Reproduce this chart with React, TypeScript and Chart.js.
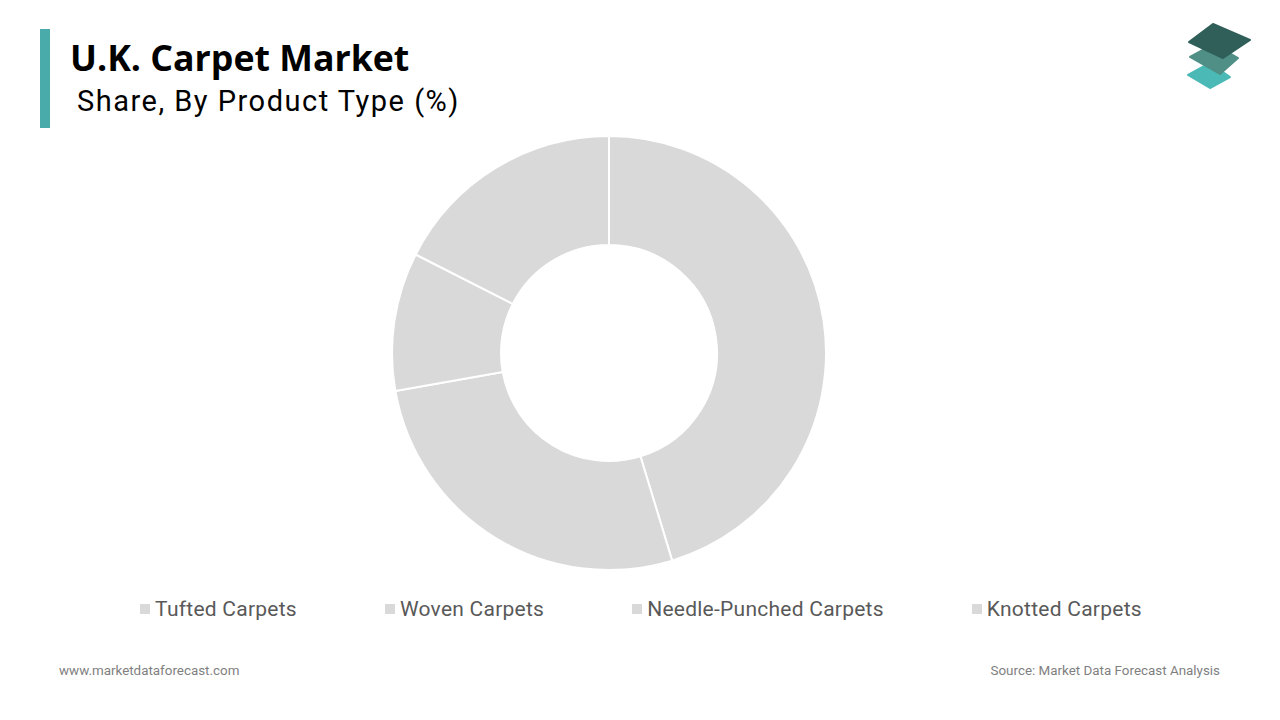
import React, { useEffect, useRef } from "react";
import { Chart, registerables } from "chart.js";

Chart.register(...registerables);

const categories = ["Tufted Carpets", "Woven Carpets", "Needle-Punched Carpets", "Knotted Carpets"];
const shares = [45.3, 26.9, 10.3, 17.5];
const sliceColors = ["#d9d9d9", "#d9d9d9", "#d9d9d9", "#d9d9d9"];

const titleText = "U.K. Carpet Market";
const subtitleText = "Share, By Product Type (%)";
const siteText = "www.marketdataforecast.com";
const sourceText = "Source: Market Data Forecast Analysis";

export default function App() {
  const ref = useRef<HTMLCanvasElement | null>(null);

  useEffect(() => {
    if (!ref.current) return;
    const chart = new Chart(ref.current, {
      type: "doughnut",
      data: {
        labels: categories,
        datasets: [
          {
            data: shares,
            backgroundColor: sliceColors,
            borderColor: "#ffffff",
            borderWidth: 2,
          },
        ],
      },
      options: {
        animation: false,
        responsive: false,
        radius: 217,
        cutout: 109,
        plugins: {
          legend: { display: false },
          tooltip: { enabled: false },
        },
      } as any,
    });
    return () => chart.destroy();
  }, []);

  const font = "Roboto, 'Noto Sans', sans-serif";

  return (
    <div style={{ position: "relative", width: 1280, height: 720, margin: -8, background: "#fff", overflow: "hidden", fontFamily: font }}>
      <div style={{ position: "absolute", left: 40, top: 29, width: 10, height: 99, background: "#4aabab" }} />
      <div style={{ position: "absolute", left: 70, top: 34, fontFamily: "'Open Sans', 'Noto Sans', sans-serif", fontWeight: 700, fontSize: 35.7, color: "#000", whiteSpace: "nowrap", lineHeight: "46px" }}>
        {titleText}
      </div>
      <div style={{ position: "absolute", left: 77, top: 83, fontFamily: font, fontSize: 29, letterSpacing: 1.5, color: "#000", whiteSpace: "nowrap", lineHeight: "36px" }}>
        {subtitleText}
      </div>
      <svg style={{ position: "absolute", left: 1180, top: 18 }} width={80} height={80} viewBox="0 0 80 80">
        <polygon points="8,57 30,45 50,59 30,70" fill="#4bb9b5" stroke="#4bb9b5" strokeWidth={2} strokeLinejoin="round" />
        <polygon points="10,39 34,26 58,40 40,56" fill="#4f8f86" stroke="#4f8f86" strokeWidth={2} strokeLinejoin="round" />
        <polygon points="9,24 33,6 70,22 43,40" fill="#2f5f58" stroke="#2f5f58" strokeWidth={2} strokeLinejoin="round" />
      </svg>
      <canvas ref={ref} width={440} height={440} style={{ position: "absolute", left: 389, top: 133, width: 440, height: 440 }} />
      <div style={{ position: "absolute", left: 0, top: 594, width: 1282, display: "flex", justifyContent: "center", alignItems: "center" }}>
        {categories.map((c, i) => (
          <div key={c} style={{ display: "flex", alignItems: "center", marginLeft: i === 0 ? 0 : 88 }}>
            <div style={{ width: 10, height: 10, background: sliceColors[i], marginRight: 5 }} />
            <span style={{ fontSize: 21, letterSpacing: 0.25, color: "#595959", lineHeight: "30px", whiteSpace: "nowrap" }}>{c}</span>
          </div>
        ))}
      </div>
      <div style={{ position: "absolute", left: 59, top: 663, fontSize: 13.4, color: "#7f7f7f", whiteSpace: "nowrap" }}>{siteText}</div>
      <div style={{ position: "absolute", right: 60, top: 663, fontSize: 13.4, color: "#7f7f7f", whiteSpace: "nowrap" }}>{sourceText}</div>
    </div>
  );
}
